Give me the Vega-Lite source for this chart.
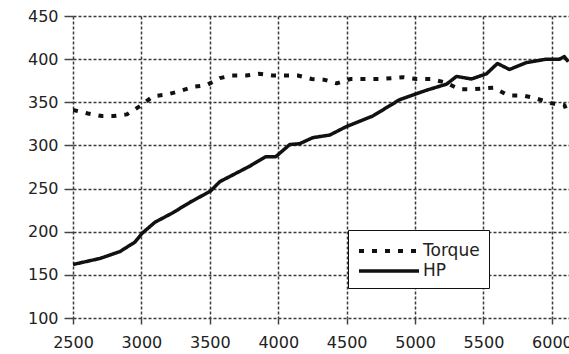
{
  "$schema": "https://vega.github.io/schema/vega-lite/v6.json",
  "width": 496,
  "height": 302,
  "autosize": {"type": "none"},
  "padding": {"left": 73, "top": 16, "right": 0, "bottom": 36},
  "background": "white",
  "config": {
    "view": {"stroke": null},
    "font": "DejaVu Sans",
    "axis": {
      "labelFont": "DejaVu Sans",
      "labelFontSize": 16,
      "labelColor": "#222",
      "domain": false,
      "grid": true,
      "gridColor": "#3a3a3a",
      "gridDash": [3, 2],
      "gridWidth": 1.5,
      "tickColor": "#444",
      "tickWidth": 1.5,
      "title": null
    }
  },
  "datasets": {
    "curves": [
      {"rpm": 2500, "value": 341, "series": "Torque"},
      {"rpm": 2610, "value": 337, "series": "Torque"},
      {"rpm": 2712, "value": 334, "series": "Torque"},
      {"rpm": 2792, "value": 334, "series": "Torque"},
      {"rpm": 2894, "value": 336, "series": "Torque"},
      {"rpm": 3004, "value": 347, "series": "Torque"},
      {"rpm": 3084, "value": 357, "series": "Torque"},
      {"rpm": 3186, "value": 359, "series": "Torque"},
      {"rpm": 3281, "value": 363, "series": "Torque"},
      {"rpm": 3383, "value": 368, "series": "Torque"},
      {"rpm": 3478, "value": 370, "series": "Torque"},
      {"rpm": 3573, "value": 378, "series": "Torque"},
      {"rpm": 3661, "value": 381, "series": "Torque"},
      {"rpm": 3763, "value": 381, "series": "Torque"},
      {"rpm": 3858, "value": 383, "series": "Torque"},
      {"rpm": 3960, "value": 381, "series": "Torque"},
      {"rpm": 4040, "value": 381, "series": "Torque"},
      {"rpm": 4142, "value": 381, "series": "Torque"},
      {"rpm": 4245, "value": 377, "series": "Torque"},
      {"rpm": 4339, "value": 376, "series": "Torque"},
      {"rpm": 4427, "value": 372, "series": "Torque"},
      {"rpm": 4529, "value": 377, "series": "Torque"},
      {"rpm": 4631, "value": 377, "series": "Torque"},
      {"rpm": 4741, "value": 377, "series": "Torque"},
      {"rpm": 4916, "value": 379, "series": "Torque"},
      {"rpm": 5011, "value": 377, "series": "Torque"},
      {"rpm": 5113, "value": 377, "series": "Torque"},
      {"rpm": 5223, "value": 373, "series": "Torque"},
      {"rpm": 5325, "value": 365, "series": "Torque"},
      {"rpm": 5412, "value": 365, "series": "Torque"},
      {"rpm": 5573, "value": 367, "series": "Torque"},
      {"rpm": 5682, "value": 358, "series": "Torque"},
      {"rpm": 5785, "value": 358, "series": "Torque"},
      {"rpm": 5872, "value": 355, "series": "Torque"},
      {"rpm": 5996, "value": 349, "series": "Torque"},
      {"rpm": 6091, "value": 347, "series": "Torque"},
      {"rpm": 6120, "value": 335, "series": "Torque"},
      {"rpm": 2500, "value": 162, "series": "HP"},
      {"rpm": 2697, "value": 169, "series": "HP"},
      {"rpm": 2843, "value": 177, "series": "HP"},
      {"rpm": 2953, "value": 188, "series": "HP"},
      {"rpm": 3004, "value": 198, "series": "HP"},
      {"rpm": 3099, "value": 211, "series": "HP"},
      {"rpm": 3230, "value": 222, "series": "HP"},
      {"rpm": 3354, "value": 234, "series": "HP"},
      {"rpm": 3504, "value": 247, "series": "HP"},
      {"rpm": 3573, "value": 258, "series": "HP"},
      {"rpm": 3646, "value": 264, "series": "HP"},
      {"rpm": 3792, "value": 276, "series": "HP"},
      {"rpm": 3909, "value": 287, "series": "HP"},
      {"rpm": 3982, "value": 287, "series": "HP"},
      {"rpm": 4084, "value": 301, "series": "HP"},
      {"rpm": 4157, "value": 302, "series": "HP"},
      {"rpm": 4252, "value": 309, "series": "HP"},
      {"rpm": 4376, "value": 312, "series": "HP"},
      {"rpm": 4500, "value": 322, "series": "HP"},
      {"rpm": 4690, "value": 334, "series": "HP"},
      {"rpm": 4887, "value": 353, "series": "HP"},
      {"rpm": 5084, "value": 364, "series": "HP"},
      {"rpm": 5230, "value": 371, "series": "HP"},
      {"rpm": 5303, "value": 380, "series": "HP"},
      {"rpm": 5412, "value": 377, "series": "HP"},
      {"rpm": 5522, "value": 383, "series": "HP"},
      {"rpm": 5602, "value": 395, "series": "HP"},
      {"rpm": 5690, "value": 388, "series": "HP"},
      {"rpm": 5814, "value": 396, "series": "HP"},
      {"rpm": 5960, "value": 400, "series": "HP"},
      {"rpm": 6055, "value": 400, "series": "HP"},
      {"rpm": 6091, "value": 403, "series": "HP"},
      {"rpm": 6120, "value": 397, "series": "HP"}
    ]
  },
  "layer": [
    {
      "data": {"name": "curves"},
      "mark": {"type": "line", "clip": true, "color": "#111", "strokeCap": "butt", "strokeJoin": "round"},
      "encoding": {
        "x": {
          "field": "rpm", "type": "quantitative",
          "scale": {"domain": [2500, 6125], "nice": false, "zero": false},
          "axis": {"values": [2500, 3000, 3500, 4000, 4500, 5000, 5500, 6000], "format": "d", "tickSize": 6, "labelPadding": 10, "labelFlush": false, "labelOverlap": false, "labelBound": false}
        },
        "y": {
          "field": "value", "type": "quantitative",
          "scale": {"domain": [100, 450], "nice": false, "zero": false},
          "axis": {"values": [100, 150, 200, 250, 300, 350, 400, 450], "tickSize": 9, "labelPadding": 6}
        },
        "strokeDash": {
          "field": "series", "type": "nominal",
          "scale": {"domain": ["Torque", "HP"], "range": [[5, 8], [1, 0]]},
          "legend": {
            "title": null,
            "orient": "none",
            "legendX": 275,
            "legendY": 214,
            "direction": "vertical",
            "padding": 9,
            "strokeColor": "#111",
            "fillColor": "white",
            "symbolType": "M-3,0H3",
            "symbolSize": 400,
            "symbolStrokeWidth": 3,
            "symbolStrokeColor": "#111",
            "symbolOffset": 20,
            "labelOffset": 22,
            "labelFont": "DejaVu Sans",
            "labelFontSize": 17,
            "labelColor": "#222",
            "rowPadding": 0
          }
        },
        "strokeWidth": {
          "field": "series", "type": "nominal",
          "scale": {"domain": ["Torque", "HP"], "range": [4, 3.5]},
          "legend": null
        }
      }
    },
    {
      "mark": {"type": "rule", "color": "#7a7a7a", "strokeWidth": 4},
      "encoding": {"y": {"datum": 450}}
    }
  ]
}
